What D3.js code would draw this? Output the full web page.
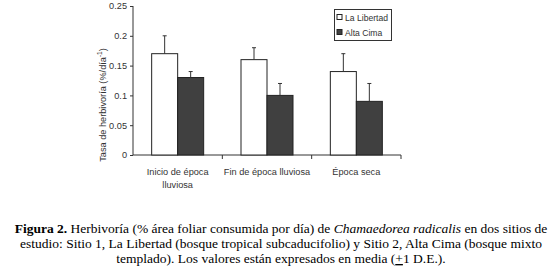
<!DOCTYPE html>
<html>
<head>
<meta charset="utf-8">
<script src="https://cdn.jsdelivr.net/npm/d3@7"></script>
<style>
  body { margin: 0; background: #fff; }
  svg { display: block; }
  .axis text { font-family: Arial, 'Liberation Sans', sans-serif; font-size: 9.2px; fill: #333; }
  .axis line, .axis path { stroke: #333; }
</style>
</head>
<body>
<svg id="chart" width="552" height="273"></svg>
<script>
// Herbivory rate by season and site, mean with +1 SD whisker
var categories = ['Inicio de época lluviosa', 'Fin de época lluviosa', 'Época seca'];
var catLines = [['Inicio de época', 'lluviosa'], ['Fin de época lluviosa'], ['Época seca']];
var series = ['La Libertad', 'Alta Cima'];
var libertad = [0.17, 0.16, 0.14];
var libertadErr = [0.03, 0.02, 0.03];
var altaCima = [0.13, 0.10, 0.09];
var altaCimaErr = [0.01, 0.02, 0.03];
var yTicks = [0, 0.05, 0.1, 0.15, 0.2, 0.25];
var colors = ['#ffffff', '#404040'];

(function () {
    var svg = d3.select('#chart');
    var pLeft = 133, pRight = 401, pTop = 6, pBottom = 155;
    var FONT = "Arial, 'Liberation Sans', sans-serif";

    var x = d3.scaleBand().domain(categories).range([pLeft, pRight]).paddingInner(0).paddingOuter(0);
    var y = d3.scaleLinear().domain([0, 0.25]).range([pBottom, pTop]);
    var barW = 26;

    // y axis
    var gy = svg.append('g').attr('class', 'axis').attr('transform', 'translate(' + pLeft + ',0)')
        .call(d3.axisLeft(y).tickValues(yTicks).tickSize(3).tickPadding(3)
            .tickFormat(function (d) { return d === 0 ? '0' : String(+d.toFixed(2)); }));
    gy.select('.domain').attr('d', 'M0,' + pTop + 'V' + pBottom);

    // x axis with ticks at category boundaries
    var gx = svg.append('g').attr('class', 'axis').attr('transform', 'translate(0,' + pBottom + ')');
    gx.append('line').attr('x1', pLeft).attr('x2', pRight).attr('y1', 0).attr('y2', 0);
    categories.forEach(function (c) {
        gx.append('line').attr('x1', x(c) + x.bandwidth()).attr('x2', x(c) + x.bandwidth())
            .attr('y1', 0).attr('y2', 4);
    });
    catLines.forEach(function (lines, i) {
        var cx = x(categories[i]) + x.bandwidth() / 2;
        var t = gx.append('text').attr('text-anchor', 'middle').attr('x', cx).attr('y', 20);
        lines.forEach(function (s, k) {
            t.append('tspan').attr('x', cx).attr('dy', k === 0 ? 0 : 13).text(s);
        });
    });

    // y axis title
    svg.append('text')
        .attr('transform', 'translate(106,105) rotate(-90)')
        .attr('text-anchor', 'middle')
        .style('font-family', FONT).style('font-size', '9.2px').style('fill', '#333')
        .html('Tasa de herbivoría (%/día<tspan dy="-4" font-size="6.5">-1</tspan><tspan dy="4">)</tspan>');

    // bars and whiskers
    var data = [libertad, altaCima];
    var errs = [libertadErr, altaCimaErr];
    data.forEach(function (vals, s) {
        vals.forEach(function (v, i) {
            var cx = x(categories[i]) + x.bandwidth() / 2;
            var bx = cx - barW + s * barW;
            svg.append('rect').attr('x', bx).attr('y', y(v)).attr('width', barW).attr('height', y(0) - y(v))
                .attr('fill', colors[s]).attr('stroke', '#222').attr('stroke-width', 1);
            var mx = bx + barW / 2;
            var ye = y(v + errs[s][i]);
            svg.append('line').attr('x1', mx).attr('x2', mx).attr('y1', y(v)).attr('y2', ye)
                .attr('stroke', '#333');
            svg.append('line').attr('x1', mx - 2).attr('x2', mx + 2).attr('y1', ye).attr('y2', ye)
                .attr('stroke', '#333');
        });
    });

    // legend
    var lg = svg.append('g').attr('transform', 'translate(334.5,9.5)');
    lg.append('rect').attr('width', 57).attr('height', 31).attr('fill', '#fff').attr('stroke', '#333');
    series.forEach(function (s, i) {
        var row = lg.append('g').attr('transform', 'translate(2.5,' + (8 + i * 15) + ')');
        row.append('rect').attr('x', 0).attr('y', -3).attr('width', 5).attr('height', 5)
            .attr('fill', colors[i]).attr('stroke', '#222');
        row.append('text').attr('x', 8).attr('y', 3)
            .style('font-family', FONT).style('font-size', '8.6px').style('fill', '#333')
            .text(s);
    });

    // caption
    var cap = svg.append('text').attr('text-anchor', 'middle')
        .style('font-family', "'Liberation Serif', 'Times New Roman', serif").style('font-size', '13.5px').style('fill', '#000');
    var capX = 281;
    var l1 = cap.append('tspan').attr('x', capX).attr('y', 233);
    l1.append('tspan').style('font-weight', 'bold').text('Figura 2.');
    l1.append('tspan').text(' Herbivoría (% área foliar consumida por día) de ');
    l1.append('tspan').style('font-style', 'italic').text('Chamaedorea radicalis');
    l1.append('tspan').text(' en dos sitios de');
    cap.append('tspan').attr('x', capX).attr('y', 248)
        .text('estudio: Sitio 1, La Libertad (bosque tropical subcaducifolio) y Sitio 2, Alta Cima (bosque mixto');
    var l3 = cap.append('tspan').attr('x', capX).attr('y', 263);
    l3.append('tspan').text('templado). Los valores están expresados en media (');
    l3.append('tspan').style('text-decoration', 'underline').text('+');
    l3.append('tspan').text('1 D.E.).');
})();
</script>
</body>
</html>
